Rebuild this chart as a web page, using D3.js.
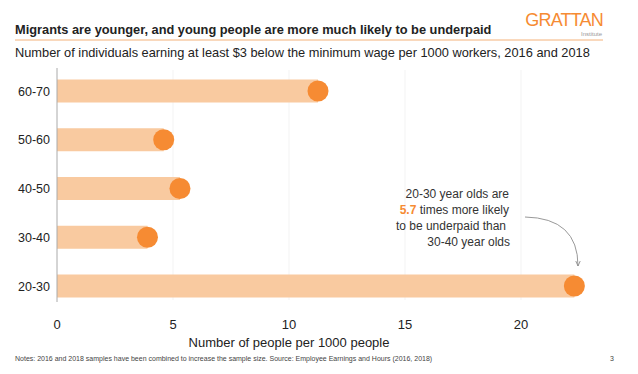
<!DOCTYPE html>
<html>
<head>
<meta charset="utf-8">
<script src="https://cdn.jsdelivr.net/npm/d3@7"></script>
<style>
  body { margin: 0; background: #fff; }
  text { font-family: "Liberation Sans", Arial, sans-serif; }
</style>
</head>
<body>
<svg width="638" height="374"></svg>
<script>
var svg = d3.select('svg');

// data
var ageGroups = ["60-70", "50-60", "40-50", "30-40", "20-30"];
var perThousand = [11.25, 4.6, 5.3, 3.9, 22.3];
var xTicks = [0, 5, 10, 15, 20];

var x = d3.scaleLinear().domain([0, 20]).range([57, 521]);
var y = d3.scalePoint().domain(ageGroups).range([91, 286]);

svg.append("rect").attr("width", 638).attr("height", 374).attr("fill", "#fff");

// header
svg.append("text").attr("x", 15).attr("y", 34)
    .attr("font-size", 12.8).attr("font-weight", "bold").attr("fill", "#222")
    .text("Migrants are younger, and young people are more much likely to be underpaid");
svg.append("line").attr("x1", 15).attr("x2", 603).attr("y1", 40).attr("y2", 40)
    .attr("stroke", "#f4b27a").attr("stroke-width", 1);
svg.append("text").attr("x", 15).attr("y", 57)
    .attr("font-size", 12.8).attr("fill", "#222")
    .text("Number of individuals earning at least $3 below the minimum wage per 1000 workers, 2016 and 2018");
svg.append("text").attr("x", 603).attr("y", 26).attr("text-anchor", "end")
    .attr("font-size", 18).attr("fill", "#f68b33").attr("letter-spacing", -0.8)
    .text("GRATTAN");
svg.append("text").attr("x", 602).attr("y", 35.5).attr("text-anchor", "end")
    .attr("font-size", 6).attr("fill", "#999").attr("font-family", "Liberation Serif")
    .text("Institute");

// faint gridlines
svg.selectAll(".grid").data(xTicks.slice(1)).enter().append("line")
    .attr("x1", d => x(d)).attr("x2", d => x(d))
    .attr("y1", 70).attr("y2", 300)
    .attr("stroke", "#f3f3f3");

// bars
var bh = 23;
svg.selectAll(".bar").data(ageGroups).enter().append("rect")
    .attr("x", x(0))
    .attr("y", (d) => y(d) - bh / 2)
    .attr("width", (d, i) => x(perThousand[i]) - x(0))
    .attr("height", bh)
    .attr("fill", "#f9caa0");

svg.selectAll(".dot").data(ageGroups).enter().append("circle")
    .attr("cx", (d, i) => x(perThousand[i]))
    .attr("cy", (d) => y(d))
    .attr("r", 10.5)
    .attr("fill", "#f68b33");

// y axis
svg.append("line").attr("x1", 57).attr("x2", 57).attr("y1", 68).attr("y2", 302)
    .attr("stroke", "#aaa").attr("stroke-width", 1);
svg.selectAll(".ylab").data(ageGroups).enter().append("text")
    .attr("x", 50).attr("y", (d) => y(d) + 4.5)
    .attr("text-anchor", "end").attr("font-size", 12.5).attr("fill", "#222")
    .text(d => d);

// x axis labels
svg.selectAll(".xlab").data(xTicks).enter().append("text")
    .attr("x", d => x(d)).attr("y", 329)
    .attr("text-anchor", "middle").attr("font-size", 13).attr("fill", "#222")
    .text(d => d);
svg.append("text").attr("x", x(10)).attr("y", 347).attr("text-anchor", "middle")
    .attr("font-size", 13).attr("fill", "#222")
    .text("Number of people per 1000 people");

// annotation
var ann = ["20-30 year olds are", "5.7 times more likely", "to be underpaid than", "30-40 year olds"];
var annX = [509, 509, 506, 510];
svg.selectAll(".ann").data(ann).enter().append("text")
    .attr("x", (d, i) => annX[i]).attr("y", (d, i) => 198 + i * 16)
    .attr("text-anchor", "end").attr("font-size", 12).attr("fill", "#333")
    .each(function(d, i) {
        var t = d3.select(this);
        if (i == 1) {
            t.append("tspan").attr("fill", "#f68b33").attr("font-weight", "bold").text("5.7");
            t.append("tspan").text(" times more likely");
        } else {
            t.text(d);
        }
    });

svg.append("defs").append("marker").attr("id", "arr")
    .attr("viewBox", "0 0 10 10").attr("refX", 9).attr("refY", 5)
    .attr("markerWidth", 6).attr("markerHeight", 6).attr("orient", "auto")
    .append("path").attr("d", "M0,1 L9,5 L0,9").attr("fill", "none").attr("stroke", "#888").attr("stroke-width", 1.4);
svg.append("path")
    .attr("d", "M525,217 Q578,218 578,266")
    .attr("fill", "none").attr("stroke", "#999").attr("stroke-width", 1)
    .attr("marker-end", "url(#arr)");

// notes
svg.append("text").attr("x", 15).attr("y", 361).attr("font-size", 7).attr("fill", "#444")
    .text("Notes: 2016 and 2018 samples have been combined to increase the sample size. Source: Employee Earnings and Hours (2016, 2018)");
svg.append("text").attr("x", 614).attr("y", 361).attr("text-anchor", "end")
    .attr("font-size", 7).attr("fill", "#444").text("3");
</script>
</body>
</html>
